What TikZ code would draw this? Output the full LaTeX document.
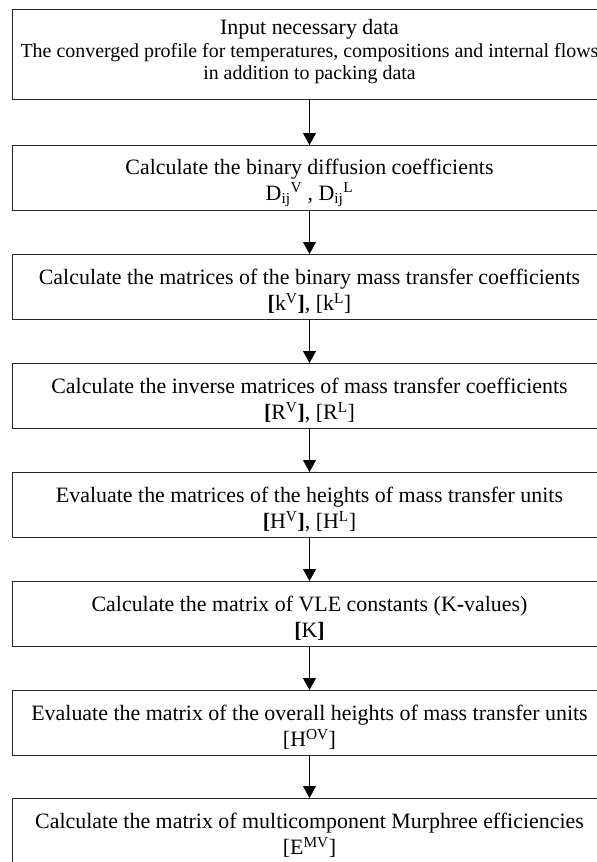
\documentclass[tikz,border=0pt]{standalone}
\usepackage{fontspec}
\setmainfont{Liberation Serif}
\usetikzlibrary{arrows.meta}
\newcommand{\topgap}{\rule{0pt}{25bp}}

\begin{document}
\begin{tikzpicture}[x=1bp, y=-1bp, line width=0.8bp,
    box/.style={draw=black!85, anchor=north, minimum width=595bp, minimum height=65bp,
      inner sep=0pt, align=center, font=\fontsize{22}{26}\selectfont},
    >={Triangle[width=13bp,length=12bp]}]
    \useasboundingbox (0,0) rectangle (597,862);
    \clip (0,0) rectangle (597,862);

    \node[box, minimum height=90bp, font=\fontsize{22}{23}\selectfont](inp) at (309.5,9)
      {Input necessary data\\
      \fontsize{20}{23}\selectfont The converged profile for temperatures, compositions and internal flows\\
      \fontsize{20}{23}\selectfont in addition to packing data\rule[-10bp]{0pt}{0pt}};
    \node[box](dif) at (309.5,145) {\topgap Calculate the binary diffusion coefficients\\
      D\textsubscript{ij}\textsuperscript{V} , D\textsubscript{ij}\textsuperscript{L}};
    \node[box](kmat) at (309.5,254) {\topgap Calculate the matrices of the binary mass transfer coefficients\\
      \textbf{[}k\textsuperscript{V}\textbf{]}, {[}k\textsuperscript{L}]};
    \node[box](rmat) at (309.5,363) {\topgap Calculate the inverse matrices of mass transfer coefficients\\
      \textbf{[}R\textsuperscript{V}\textbf{]}, {[}R\textsuperscript{L}]};
    \node[box](hmat) at (309.5,472) {\topgap Evaluate the matrices of the heights of mass transfer units\\
      \textbf{[}H\textsuperscript{V}\textbf{]}, {[}H\textsuperscript{L}]};
    \node[box](kval) at (309.5,581) {\topgap Calculate the matrix of VLE constants (K\textbf{-}values)\\
      \textbf{[}K\textbf{]}};
    \node[box](hov) at (309.5,690) {\topgap Evaluate the matrix of the overall heights of mass transfer units\\
      {[}H\textsuperscript{OV}]};
    \node[box](emv) at (309.5,798) {\topgap Calculate the matrix of multicomponent Murphree efficiencies\\
      {[}E\textsuperscript{MV}]};

    \draw[->] (inp) edge (dif)
              (dif) edge (kmat)
              (kmat) edge (rmat)
              (rmat) edge (hmat)
              (hmat) edge (kval)
              (kval) edge (hov)
              (hov) edge (emv);
\end{tikzpicture}
\end{document}
